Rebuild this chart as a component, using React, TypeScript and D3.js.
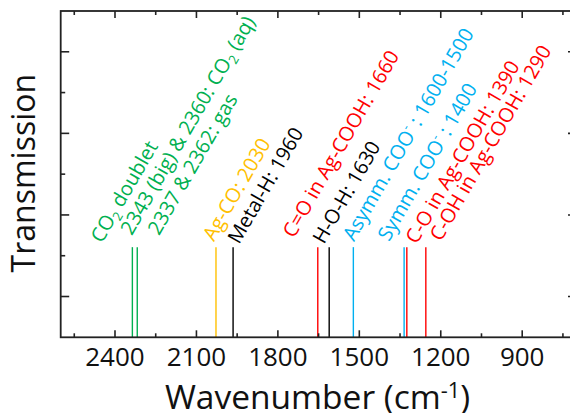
import React from 'react';
import * as d3 from 'd3';

const width = 570;
const height = 413;
const margin = { top: 11, left: 60.7, bottom: 75.7 };
const plotRight = 576.5; // right frame sits just past the window edge

// axis ranges / ticks (wavenumber axis is reversed)
const xDomain = [2600, 700];
const yDomain = [0, 0.8];
const xMajorTicks = [2400, 2100, 1800, 1500, 1200, 900];
const xMinorTicks = [2550, 2250, 1950, 1650, 1350, 1050, 750];
const yMajorTicks = [0.1, 0.3, 0.5, 0.7];
const yMinorTicks = [0.2, 0.4, 0.6];

// vertical marker lines
const peakWavenumbers = [2336, 2318, 2028, 1965, 1653, 1611, 1522, 1335, 1325, 1255];
const peakGroups = ['co2', 'co2', 'agco', 'metal', 'cooh', 'water', 'coo', 'coo', 'cooh', 'cooh'];
const peakTop = 0.221;

// rotated annotations: {_x} = subscript, {^x} = superscript
const labelTexts = [
    'CO{_2} doublet',
    '2343 (big) & 2360: CO{_2} (aq)',
    '2337 & 2362: gas',
    'Ag-CO: 2030',
    'Metal-H: 1960',
    'C=O in Ag-COOH: 1660',
    'H-O-H: 1630',
    'Asymm. COO{^-} : 1600-1500',
    'Symm. COO{^-} : 1400',
    'C-O in Ag-COOH: 1390',
    'C-OH in Ag-COOH: 1290',
];
const labelGroups = ['co2', 'co2', 'co2', 'agco', 'metal', 'cooh', 'water', 'coo', 'coo', 'cooh', 'cooh'];
const labelWavenumbers = [2448, 2338, 2238, 2035, 1943, 1741, 1630, 1520, 1391, 1288, 1199];
const labelLevels = [0.229, 0.248, 0.248, 0.233, 0.226, 0.241, 0.226, 0.233, 0.233, 0.226, 0.233];
const labelAngle = -60;

const groupColor: Record<string, string> = {
    co2: '#00B050',
    agco: '#FFC000',
    metal: '#000000',
    water: '#000000',
    cooh: '#FF0000',
    coo: '#00B0F0',
};

const font = '"Open Sans", "DejaVu Sans", sans-serif';

// turns the little markup above into tspans
function richText(str: string, size: number, supRaise = 0.42) {
    const parts = str.split(/(\{[_^][^}]*\})/).filter((p) => p.length);
    let pending = 0;
    return parts.map((p, i) => {
        if (p.startsWith('{_') || p.startsWith('{^')) {
            const shift = p[1] === '_' ? size * 0.22 : -size * supRaise;
            const dy = pending + shift;
            pending = -shift;
            return (
                <tspan key={i} dy={dy} fontSize={size * 0.65}>
                    {p.slice(2, -1)}
                </tspan>
            );
        }
        const dy = pending;
        pending = 0;
        return (
            <tspan key={i} dy={dy} fontSize={size}>
                {p}
            </tspan>
        );
    });
}

const App: React.FC = () => {
    const x = d3.scaleLinear().domain(xDomain).range([margin.left, plotRight]);
    const y = d3.scaleLinear().domain(yDomain).range([height - margin.bottom, margin.top]);

    const x0 = x(xDomain[0]);
    const x1 = x(xDomain[1]);
    const yBottom = y(yDomain[0]);
    const yTop = y(yDomain[1]);

    const axisColor = '#222';
    const labelSize = 20;

    return (
        <svg
            width={width}
            height={height}
            style={{ position: 'absolute', left: 0, top: 0, background: '#fff' }}
            fontFamily={font}
        >
            {/* marker lines */}
            {peakWavenumbers.map((w, i) => (
                <line
                    key={'p' + i}
                    x1={x(w)}
                    x2={x(w)}
                    y1={yBottom}
                    y2={y(peakTop)}
                    stroke={groupColor[peakGroups[i]]}
                    strokeWidth={1.4}
                />
            ))}

            {/* annotations */}
            {labelTexts.map((t, i) => (
                <text
                    key={'l' + i}
                    transform={`translate(${x(labelWavenumbers[i])},${y(labelLevels[i])}) rotate(${labelAngle})`}
                    fill={groupColor[labelGroups[i]]}
                    fontSize={labelSize}
                >
                    {richText(t, labelSize)}
                </text>
            ))}

            {/* x ticks, bottom + top, pointing inward */}
            {xMajorTicks.map((t) => (
                <g key={'xM' + t} stroke={axisColor} strokeWidth={1.6}>
                    <line x1={x(t)} x2={x(t)} y1={yBottom} y2={yBottom - 7} />
                    <line x1={x(t)} x2={x(t)} y1={yTop} y2={yTop + 7} />
                </g>
            ))}
            {xMinorTicks.map((t) => (
                <g key={'xm' + t} stroke={axisColor} strokeWidth={1.6}>
                    <line x1={x(t)} x2={x(t)} y1={yBottom} y2={yBottom - 4} />
                    <line x1={x(t)} x2={x(t)} y1={yTop} y2={yTop + 4} />
                </g>
            ))}

            {/* y ticks, left + right */}
            {yMajorTicks.map((t) => (
                <g key={'yM' + t} stroke={axisColor} strokeWidth={1.6}>
                    <line x1={x0} x2={x0 + 8.5} y1={y(t)} y2={y(t)} />
                    <line x1={x1} x2={x1 - 8.5} y1={y(t)} y2={y(t)} />
                </g>
            ))}
            {yMinorTicks.map((t) => (
                <g key={'ym' + t} stroke={axisColor} strokeWidth={1.6}>
                    <line x1={x0} x2={x0 + 4.5} y1={y(t)} y2={y(t)} />
                    <line x1={x1} x2={x1 - 4.5} y1={y(t)} y2={y(t)} />
                </g>
            ))}

            {/* frame */}
            <rect
                x={x0}
                y={yTop}
                width={x1 - x0}
                height={yBottom - yTop}
                fill="none"
                stroke={axisColor}
                strokeWidth={1.8}
            />

            {/* tick labels */}
            {xMajorTicks.map((t) => (
                <text
                    key={'xt' + t}
                    x={x(t)}
                    y={yBottom + 29}
                    textAnchor="middle"
                    fontSize={26}
                    fill="#111"
                >
                    {t}
                </text>
            ))}

            {/* axis titles */}
            <text x={317.5} y={408.5} textAnchor="middle" fontSize={33.5} fill="#111">
                {richText('Wavenumber (cm{^-1})', 33.5, 0.3)}
            </text>
            <text
                transform={`translate(35,${(yTop + yBottom) / 2 - 1}) rotate(-90)`}
                textAnchor="middle"
                fontSize={32}
                fill="#111"
            >
                Transmission
            </text>
        </svg>
    );
};

export default App;
